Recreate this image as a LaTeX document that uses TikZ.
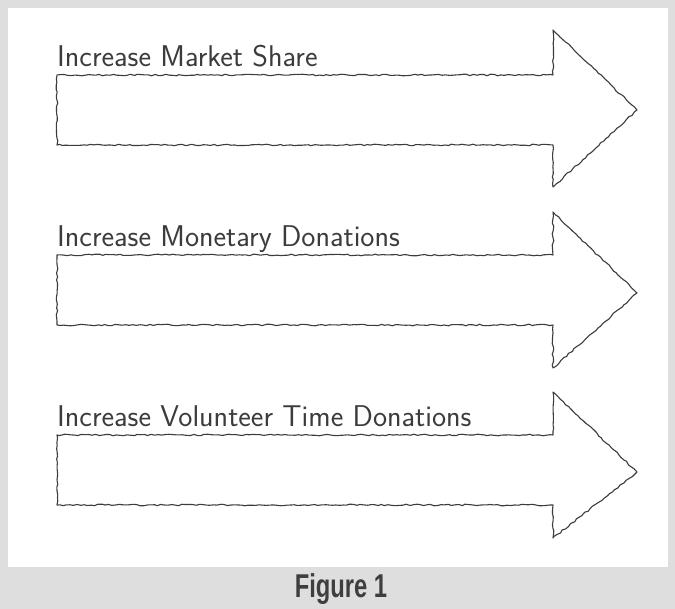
\documentclass[tikz,border=0pt]{standalone}
\usepackage{fontspec}
\usepackage{graphicx}
\usetikzlibrary{calc,decorations.pathmorphing}
\newfontfamily\figfont{Liberation Sans}
\definecolor{framegray}{HTML}{DEDEDE}
\definecolor{inkgray}{HTML}{3C3C3C}
\definecolor{captiongray}{HTML}{3E3E3E}

\begin{document}
\begin{tikzpicture}[x=1pt,y=-1pt,
    sketch/.style={draw=inkgray, line width=1.1pt, line join=round,
      decorate, decoration={random steps, segment length=3.5pt, amplitude=0.8pt}},
    goal/.style={anchor=base west, inner sep=0pt, text=inkgray,
      font=\fontsize{30}{34}\selectfont\sffamily},
    caption/.style={anchor=base, inner sep=0pt, text=captiongray,
      font=\fontsize{33}{36}\selectfont\figfont\bfseries}]
	\pgfmathsetseed{3}
	% frame and caption bar
	\fill[framegray] (0,0) rectangle (675,609);
	\fill[white] (8,8) rectangle (668,567);
	%
	\foreach \n/\ht/\st/\sb/\hb/\ty/\goaltext in {
	    1/30/75/145/187/110/Increase Market Share,
	    2/212/255/325/368/293/Increase Monetary Donations,
	    3/392/435/505/538/472/Increase Volunteer Time Donations}{
		\coordinate (s\n) at (57,\st);
		\coordinate (t\n) at (637,\ty);
		\draw[sketch] (s\n) -- (553,\st) -- (553,\ht) -- (t\n)
			-- (553,\hb) -- (553,\sb) -- (57,\sb) -- cycle;
		\node[goal] (g\n) at ($(s\n)+(0,-8)$) {\goaltext};
	}
	%
	\node[caption] (fig) at (341,597) {\scalebox{0.72}[1]{Figure 1}};
\end{tikzpicture}
\end{document}
